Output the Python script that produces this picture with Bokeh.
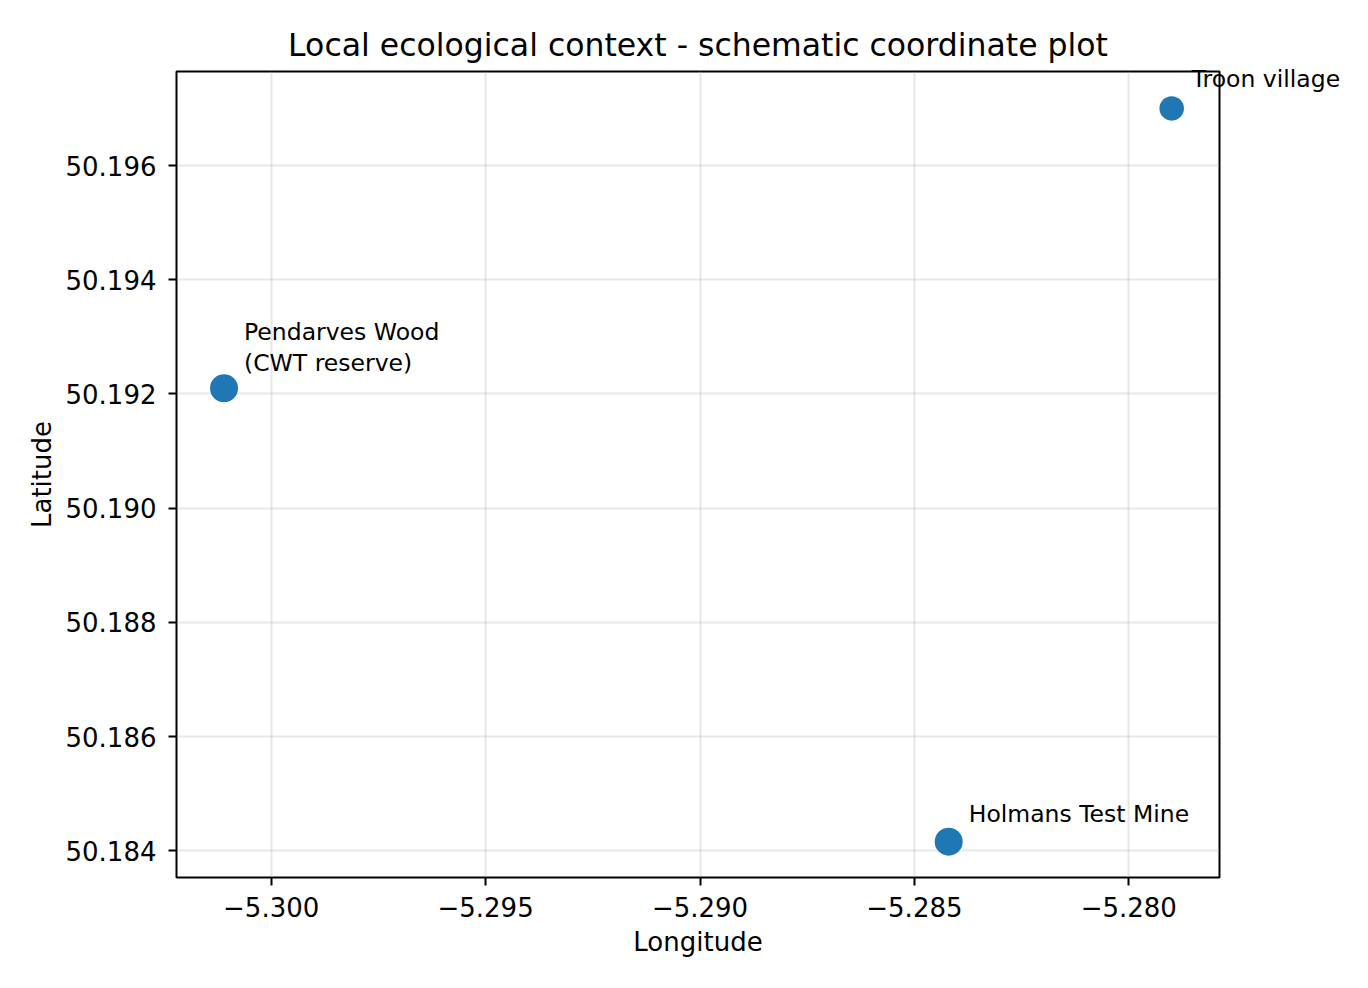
from bokeh.plotting import figure
from bokeh.models import ColumnDataSource, Range1d, FixedTicker
from bokeh.core.properties import value
from bokeh.embed import file_html
from bokeh.resources import INLINE

# site data
names = ["Pendarves Wood\n(CWT reserve)", "Troon village", "Holmans Test Mine"]
lons = [-5.3011, -5.2790, -5.2842]
lats = [50.1921, 50.1970, 50.18416]

x_ticks = [-5.300, -5.295, -5.290, -5.285, -5.280]
x_tick_labels = ["\u22125.300", "\u22125.295", "\u22125.290", "\u22125.285", "\u22125.280"]
y_ticks = [50.184, 50.186, 50.188, 50.190, 50.192, 50.194, 50.196]
y_tick_labels = ["50.184", "50.186", "50.188", "50.190", "50.192", "50.194", "50.196"]

# styling, not data: marker diameters and label offsets in px
marker_px = [28, 24.5, 28]
label_dy = [-11, -15.5, -14]

FONT = "DejaVu Sans"

p = figure(width=1360, height=980, output_backend="svg", toolbar_location=None,
           x_range=Range1d(-5.3022085, -5.277885), y_range=Range1d(50.183532, 50.1976467),
           min_border_left=176, min_border_right=141, min_border_top=71, min_border_bottom=103,
           background_fill_color="white", border_fill_color="white",
           outline_line_color="black", outline_line_width=2)

p.title.text = "Local ecological context - schematic coordinate plot"
p.title.text_font = FONT
p.title.text_font_size = "31.5px"
p.title.text_font_style = "normal"
p.title.text_color = "black"
p.title.align = "center"
p.title.standoff = 17

src = ColumnDataSource(dict(x=lons, y=lats, name=names, size=marker_px, dy=label_dy))
p.scatter("x", "y", size="size", source=src, fill_color="#1f77b4", line_color=None)

# labels as a glyph at overlay level so the Troon label can run past the frame
p.text("x", "y", text="name", source=src, x_offset=20, y_offset="dy",
       text_font=value(FONT), text_font_size="23.5px", text_align="left",
       text_baseline="bottom", text_color="black", text_line_height=1.1,
       level="overlay")

p.xaxis.ticker = FixedTicker(ticks=x_ticks)
p.xaxis.major_label_overrides = dict(zip(x_ticks, x_tick_labels))
p.yaxis.ticker = FixedTicker(ticks=y_ticks)
p.yaxis.major_label_overrides = dict(zip(y_ticks, y_tick_labels))

p.xaxis.axis_label = "Longitude"
p.yaxis.axis_label = "Latitude"
for ax in (p.xaxis, p.yaxis):
    ax.axis_line_color = None
    ax.major_tick_in = 0
    ax.major_tick_out = 8
    ax.major_tick_line_width = 2
    ax.major_tick_line_color = "black"
    ax.minor_tick_line_color = None
    ax.major_label_text_font = FONT
    ax.major_label_text_font_size = "26px"
    ax.major_label_text_color = "black"
    ax.axis_label_text_font = FONT
    ax.axis_label_text_font_size = "26px"
    ax.axis_label_text_font_style = "normal"
    ax.axis_label_text_color = "black"
p.xaxis.major_label_standoff = 11
p.xaxis.axis_label_standoff = 7
p.yaxis.major_label_standoff = 12
p.yaxis.axis_label_standoff = 6

p.grid.grid_line_color = "#b0b0b0"
p.grid.grid_line_alpha = 0.3
p.grid.grid_line_width = 2

open("out.html", "w").write(file_html(p, INLINE))
